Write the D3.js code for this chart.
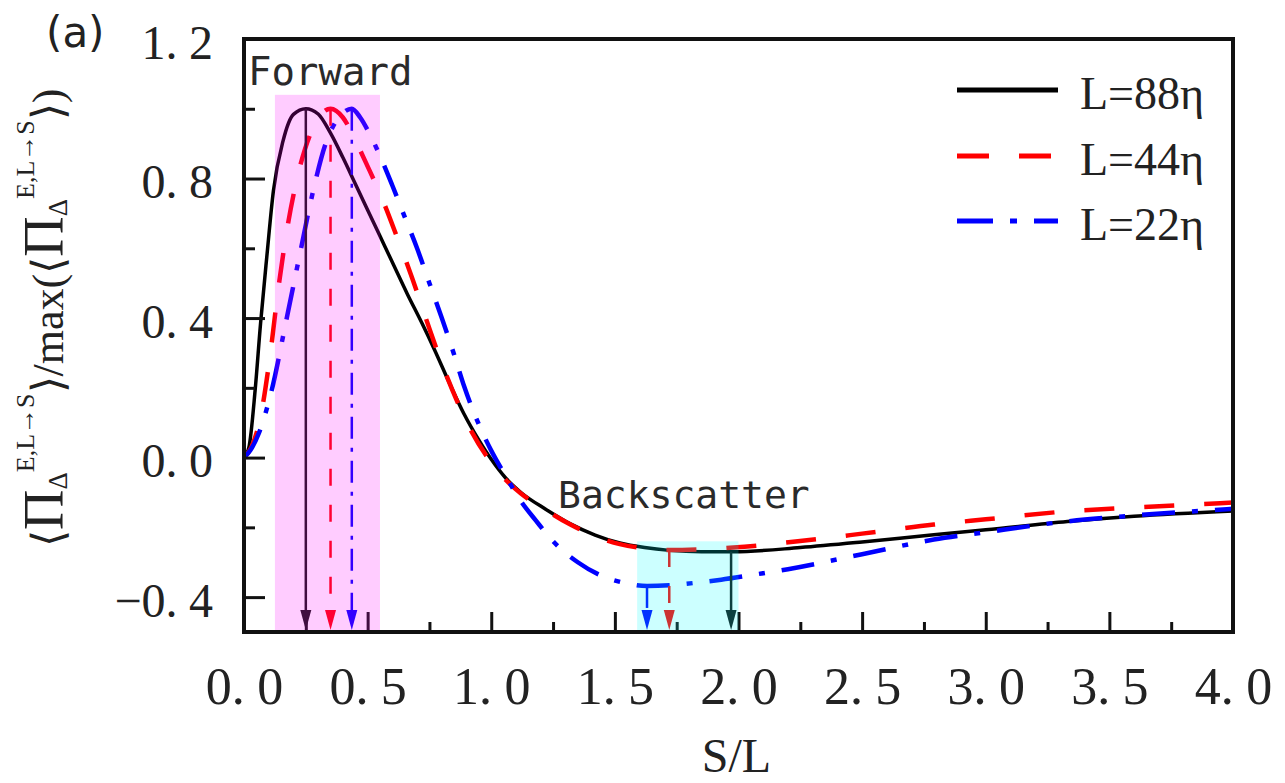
<!DOCTYPE html>
<html>
<head>
<meta charset="utf-8">
<script src="https://cdn.jsdelivr.net/npm/d3@7"></script>
<style>
  body { margin: 0; background: #fff; }
  svg { display: block; }
</style>
</head>
<body>
<svg id="chart" width="1285" height="783"></svg>
<script>
// ---- data: normalised inter-scale flux vs S/L for three filter scales ----
const s88 = [0, 0.02, 0.045, 0.067, 0.092, 0.119, 0.158, 0.2, 0.25, 0.3, 0.35, 0.4, 0.45, 0.5, 0.55, 0.6, 0.66, 0.72, 0.77, 0.83, 0.89, 0.95, 1.0, 1.06, 1.12, 1.22, 1.32, 1.42, 1.52, 1.62, 1.72, 1.85, 1.98, 2.25, 2.5, 2.79, 3.0, 3.33, 3.6, 4.0];
const v88 = [0, 0.03, 0.193, 0.385, 0.574, 0.765, 0.908, 0.984, 1.0, 0.985, 0.93, 0.86, 0.785, 0.71, 0.635, 0.56, 0.47, 0.385, 0.31, 0.215, 0.125, 0.05, -0.005, -0.06, -0.1, -0.148, -0.19, -0.222, -0.245, -0.258, -0.266, -0.27, -0.27, -0.258, -0.242, -0.221, -0.207, -0.183, -0.168, -0.153];

const s44 = [0, 0.03, 0.065, 0.105, 0.138, 0.178, 0.219, 0.287, 0.35, 0.4, 0.45, 0.5, 0.56, 0.62, 0.68, 0.74, 0.8, 0.86, 0.92, 0.98, 1.06, 1.12, 1.22, 1.32, 1.42, 1.52, 1.62, 1.72, 1.85, 1.98, 2.24, 2.5, 2.79, 3.0, 3.33, 3.6, 4.0];
const v44 = [0, 0.03, 0.11, 0.29, 0.48, 0.67, 0.813, 0.956, 1.0, 0.975, 0.91, 0.835, 0.74, 0.63, 0.515, 0.39, 0.27, 0.165, 0.075, 0.005, -0.065, -0.103, -0.15, -0.192, -0.225, -0.248, -0.26, -0.265, -0.263, -0.258, -0.24, -0.218, -0.192, -0.177, -0.154, -0.143, -0.129];

const s22 = [0, 0.025, 0.06, 0.112, 0.17, 0.225, 0.275, 0.33, 0.39, 0.436, 0.47, 0.51, 0.55, 0.6, 0.65, 0.7, 0.75, 0.8, 0.85, 0.89, 0.95, 1.0, 1.06, 1.12, 1.18, 1.25, 1.35, 1.45, 1.53, 1.63, 1.72, 1.85, 1.93, 2.05, 2.2, 2.5, 2.79, 3.0, 3.33, 3.6, 4.0];
const v22 = [0, 0.02, 0.07, 0.193, 0.39, 0.58, 0.75, 0.9, 0.98, 1.0, 0.975, 0.925, 0.865, 0.78, 0.69, 0.6, 0.5, 0.4, 0.295, 0.205, 0.095, 0.02, -0.055, -0.125, -0.18, -0.24, -0.3, -0.34, -0.358, -0.368, -0.366, -0.357, -0.35, -0.337, -0.32, -0.277, -0.235, -0.214, -0.183, -0.166, -0.147];

const seriesNames = ["L=88η", "L=44η", "L=22η"];

// S/L of the forward peak and of the backscatter minimum, per series
const forwardPeakS = [0.25, 0.35, 0.436];
const backMinS = [1.97, 1.72, 1.63];

// shaded ranges: [S start, S end, top value]
const forwardBand = [0.125, 0.55, 1.04];
const backBand = [1.59, 2.0, -0.24];

// axes
const xMajorTicks = [0, 0.5, 1, 1.5, 2, 2.5, 3, 3.5, 4];
const xMinorTicks = [0.25, 0.75, 1.25, 1.75, 2.25, 2.75, 3.25, 3.75];
const yMajorTicks = [-0.4, 0, 0.4, 0.8, 1.2];
const yMinorTicks = [-0.2, 0.2, 0.6, 1.0];

// ---- drawing ----
const svg = d3.select("#chart");
const x = d3.scaleLinear().domain([0, 4]).range([244, 1233]);
const y = d3.scaleLinear().domain([-0.5, 1.2]).range([632, 39]);

const styles = [
  { color: "#000000", dash: null, width: 3.5, arrowDash: null, arrowColor: "#111" },
  { color: "#ff0000", dash: "30,30", width: 4.5, arrowDash: "17,19", arrowColor: "#ff0000" },
  { color: "#0000ff", dash: "33,17,6,17", width: 4.5, arrowDash: "22,9,4,9", arrowColor: "#0000ff" }
];

const series = [
  { name: seriesNames[0], s: s88, v: v88 },
  { name: seriesNames[1], s: s44, v: v44 },
  { name: seriesNames[2], s: s22, v: v22 }
];

function valueAt(ser, s) {
  const i = d3.bisectLeft(ser.s, s);
  if (i <= 0) return ser.v[0];
  if (i >= ser.s.length) return ser.v[ser.v.length - 1];
  const s0 = ser.s[i - 1], s1 = ser.s[i];
  const t = (s - s0) / (s1 - s0);
  return ser.v[i - 1] + t * (ser.v[i] - ser.v[i - 1]);
}

const line = d3.line()
  .x(d => x(d[0]))
  .y(d => y(d[1]))
  .curve(d3.curveMonotoneX);

const gCurves = svg.append("g");
series.forEach((ser, i) => {
  const st = styles[i];
  gCurves.append("path")
    .datum(d3.zip(ser.s, ser.v))
    .attr("d", line)
    .attr("fill", "none")
    .attr("stroke", st.color)
    .attr("stroke-width", st.width)
    .attr("stroke-dasharray", st.dash);
});

// vertical arrows from the peak / minimum down to the S axis
const gArrows = svg.append("g");
function arrow(s, v, st) {
  const px = x(s), top = y(v), tip = y(-0.5) - 2, headLen = 20, headW = 5.5;
  gArrows.append("line")
    .attr("x1", px).attr("x2", px)
    .attr("y1", top).attr("y2", tip - headLen + 2)
    .attr("stroke", st.arrowColor)
    .attr("stroke-width", 2.5)
    .attr("stroke-dasharray", st.arrowDash);
  gArrows.append("path")
    .attr("d", `M${px},${tip} L${px - headW},${tip - headLen} L${px + headW},${tip - headLen} Z`)
    .attr("fill", st.arrowColor);
}
series.forEach((ser, i) => {
  arrow(forwardPeakS[i], valueAt(ser, forwardPeakS[i]), styles[i]);
  arrow(backMinS[i], valueAt(ser, backMinS[i]), styles[i]);
});

// axes with inward ticks
function splitLabel(sel) {
  sel.each(function () {
    const t = d3.select(this);
    const str = t.text();
    const k = str.indexOf(".");
    t.text(null);
    t.append("tspan").text(str.slice(0, k + 1));
    t.append("tspan").attr("dx", "0.24em").text(str.slice(k + 1));
  });
}

const fmt = d3.format(".1f");
const xAxisMajor = svg.append("g")
  .attr("transform", `translate(0,${y(-0.5)})`)
  .call(d3.axisBottom(x).tickValues(xMajorTicks).tickSize(-20).tickPadding(35).tickFormat(fmt));
const xAxisMinor = svg.append("g")
  .attr("transform", `translate(0,${y(-0.5)})`)
  .call(d3.axisBottom(x).tickValues(xMinorTicks).tickSize(-10).tickFormat(""));
const yAxisMajor = svg.append("g")
  .attr("transform", `translate(${x(0)},0)`)
  .call(d3.axisLeft(y).tickValues(yMajorTicks).tickSize(-21).tickPadding(31).tickFormat(fmt));
const yAxisMinor = svg.append("g")
  .attr("transform", `translate(${x(0)},0)`)
  .call(d3.axisLeft(y).tickValues(yMinorTicks).tickSize(-11).tickFormat(""));

[xAxisMajor, xAxisMinor, yAxisMajor, yAxisMinor].forEach(g => {
  g.select(".domain").remove();
  g.selectAll(".tick line").attr("stroke", "#111").attr("stroke-width", 3);
});
xAxisMajor.selectAll("text")
  .attr("font-family", "'Liberation Serif', serif")
  .attr("font-size", 52)
  .attr("fill", "#222")
  .call(splitLabel);
yAxisMajor.selectAll("text")
  .attr("font-family", "'Liberation Serif', serif")
  .attr("font-size", 48)
  .attr("fill", "#222")
  .attr("dy", "0.4em")
  .call(splitLabel);

// translucent highlight bands
svg.append("rect")
  .attr("x", x(forwardBand[0]))
  .attr("width", x(forwardBand[1]) - x(forwardBand[0]))
  .attr("y", y(forwardBand[2]))
  .attr("height", y(-0.5) - y(forwardBand[2]))
  .attr("fill", "#ff00ff")
  .attr("fill-opacity", 0.2);
svg.append("rect")
  .attr("x", x(backBand[0]))
  .attr("width", x(backBand[1]) - x(backBand[0]))
  .attr("y", y(backBand[2]))
  .attr("height", y(-0.5) - y(backBand[2]))
  .attr("fill", "#00ffff")
  .attr("fill-opacity", 0.2);

// frame
svg.append("rect")
  .attr("x", x(0)).attr("y", y(1.2))
  .attr("width", x(4) - x(0)).attr("height", y(-0.5) - y(1.2))
  .attr("fill", "none")
  .attr("stroke", "#111")
  .attr("stroke-width", 4);

// band captions
svg.append("text")
  .attr("x", 248).attr("y", 85)
  .attr("font-family", "'DejaVu Sans Mono', monospace")
  .attr("font-size", 39)
  .attr("fill", "#2a2a2a")
  .text("Forward");
svg.append("text")
  .attr("x", 558).attr("y", 508)
  .attr("font-family", "'DejaVu Sans Mono', monospace")
  .attr("font-size", 38)
  .attr("fill", "#2a2a2a")
  .text("Backscatter");

// panel tag
svg.append("text")
  .attr("x", 46).attr("y", 47)
  .attr("font-family", "'DejaVu Sans', sans-serif")
  .attr("font-size", 42)
  .attr("fill", "#222")
  .text("(a)");

// axis titles
svg.append("text")
  .attr("x", (x(0) + x(4)) / 2 - 2).attr("y", 772)
  .attr("text-anchor", "middle")
  .attr("font-family", "'Liberation Serif', serif")
  .attr("font-size", 48)
  .attr("fill", "#222")
  .text("S/L");

const yTitle = svg.append("text")
  .attr("transform", "translate(63,547) rotate(-90)")
  .attr("font-family", "'Liberation Serif', serif")
  .attr("font-size", 44)
  .attr("fill", "#222");
function fluxTerm(t) {
  t.append("tspan").text("⟨");
  t.append("tspan").attr("font-size", 56).text("Π");
  t.append("tspan").attr("font-size", 27).attr("dy", 4).text("Δ");
  t.append("tspan").attr("font-size", 26).attr("dy", -33).text("E,L→S");
  t.append("tspan").attr("dy", 29).text("⟩");
}
fluxTerm(yTitle);
yTitle.append("tspan").text("/max(");
fluxTerm(yTitle);
yTitle.append("tspan").text(")");

// legend
const legendY = [90, 156, 221];
series.forEach((ser, i) => {
  const st = styles[i];
  svg.append("line")
    .attr("x1", 957).attr("x2", 1058)
    .attr("y1", legendY[i]).attr("y2", legendY[i])
    .attr("stroke", st.color)
    .attr("stroke-width", 5)
    .attr("stroke-dasharray", i === 0 ? null : (i === 1 ? "32,30" : "36,17,7,17"));
  svg.append("text")
    .attr("x", 1080).attr("y", legendY[i] + 19)
    .attr("font-family", "'Liberation Serif', serif")
    .attr("font-size", 46)
    .attr("fill", "#222")
    .text(ser.name);
});
</script>
</body>
</html>
